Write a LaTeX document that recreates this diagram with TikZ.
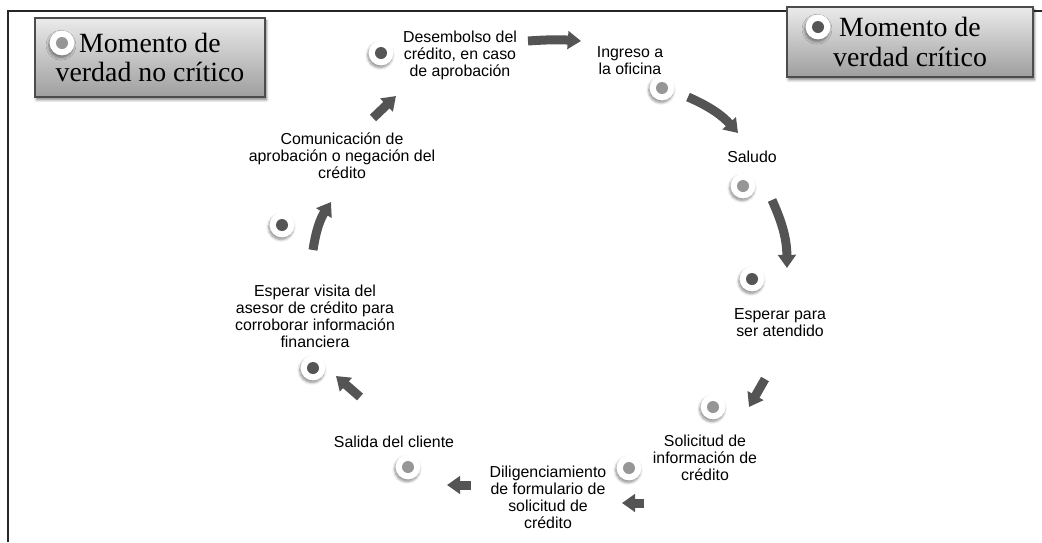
\documentclass[tikz,border=0pt]{standalone}
\usepackage{fontspec}
\setmainfont{Liberation Serif}
\setsansfont{Liberation Sans}
\usetikzlibrary{arrows.meta}
\usetikzlibrary{shadows.blur}
\definecolor{critico}{HTML}{555555}
\definecolor{nocritico}{HTML}{969696}
\definecolor{grisflecha}{HTML}{545454}

\begin{document}
\begin{tikzpicture}[x=0.025cm,y=-0.025cm,
    paso/.style={font=\sffamily\fontsize{11.3}{12.05}\selectfont, align=center, inner sep=0pt},
    punto/.style={circle, fill=white, minimum size=0.62cm, inner sep=0pt,
        blur shadow={shadow xshift=-0.7pt, shadow yshift=-1.6pt, shadow blur steps=6, shadow opacity=45},
        path picture={\fill[#1] (path picture bounding box.center) circle (0.15cm);}},
    leyenda/.style={draw=black!70, line width=0.8pt, top color=black!8, bottom color=black!38,
        font=\fontsize{19.8}{21}\selectfont, align=center, inner sep=0pt,
        blur shadow={shadow xshift=1pt, shadow yshift=-2pt, shadow blur steps=5, shadow opacity=50}},
    flecha/.style={draw=grisflecha, line width=0.225cm, -{Triangle[length=0.33cm,width=0.44cm]}}
]
\useasboundingbox (0,0) rectangle (1042,542);
\draw[line width=1.4pt, black!85] (8,542) -- (8,11) -- (1042,11);

\node[leyenda, minimum width=5.75cm, minimum height=1.975cm] (nocrit) at (150,57.5) {Momento de\\verdad no crítico};
\node[punto=nocritico] (pnocrit) at (62,43) {};
\node[leyenda, minimum width=6.15cm, minimum height=1.75cm] (crit) at (910,42) {Momento de\\verdad crítico};
\node[punto=critico] (pcrit) at (818,27) {};

\node[paso] (desembolso) at (460,55) {Desembolso del\\crédito, en caso\\de aprobación};
\node[paso] (ingreso) at (630,61) {Ingreso a\\la oficina};
\node[paso] (saludo) at (752,157) {Saludo};
\node[paso] (esperar) at (780,323) {Esperar para\\ser atendido};
\node[paso] (solicitud) at (705,458) {Solicitud de\\información de\\crédito};
\node[paso] (diligencia) at (548,497) {Diligenciamiento\\de formulario de\\solicitud de\\crédito};
\node[paso] (salida) at (394,442) {Salida del cliente};
\node[paso] (visita) at (315,316) {Esperar visita del\\asesor de crédito para\\corroborar información\\financiera};
\node[paso] (comunica) at (342,156) {Comunicación de\\aprobación o negación del\\crédito};

\node[punto=critico] (pdesembolso) at (381,53) {};
\node[punto=nocritico] (pingreso) at (662,88) {};
\node[punto=nocritico] (psaludo) at (743,186) {};
\node[punto=critico] (pesperar) at (752,279) {};
\node[punto=nocritico] (psolicitud) at (713,407) {};
\node[punto=nocritico] (pdiligencia) at (629,468) {};
\node[punto=nocritico] (psalida) at (408,467) {};
\node[punto=critico] (pvisita) at (313,368) {};
\node[punto=critico] (pcomunica) at (282,225) {};

\coordinate (f1a) at (528,41); \coordinate (f1b) at (581,41);
\coordinate (f2a) at (688,97); \coordinate (f2b) at (738,133);
\coordinate (f3a) at (772,200); \coordinate (f3b) at (787,268);
\coordinate (f4a) at (765,379); \coordinate (f4b) at (749,407);
\coordinate (f5a) at (644,503); \coordinate (f5b) at (622,503);
\coordinate (f6a) at (471,485); \coordinate (f6b) at (447,485);
\coordinate (f7a) at (360,397); \coordinate (f7b) at (336,376);
\coordinate (f8a) at (313,250); \coordinate (f8b) at (331,202);
\coordinate (f9a) at (373,118); \coordinate (f9b) at (396,96);

\draw[flecha] (f1a) to[bend left=4] (f1b);
\draw[flecha] (f2a) to[bend left=12] (f2b);
\draw[flecha] (f3a) to[bend left=12] (f3b);
\draw[flecha] (f4a) -- (f4b);
\draw[flecha] (f5a) -- (f5b);
\draw[flecha] (f6a) -- (f6b);
\draw[flecha] (f7a) -- (f7b);
\draw[flecha] (f8a) to[bend left=12] (f8b);
\draw[flecha] (f9a) -- (f9b);
\end{tikzpicture}
\end{document}
